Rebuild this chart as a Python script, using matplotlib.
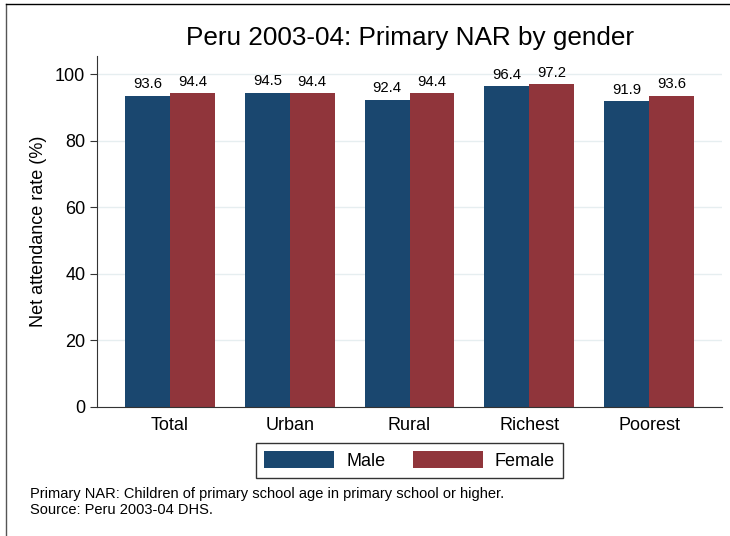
import numpy as np
import matplotlib.pyplot as plt
from matplotlib.lines import Line2D

plt.rcParams['font.family'] = ['Liberation Sans', 'DejaVu Sans']

categories = ['Total', 'Urban', 'Rural', 'Richest', 'Poorest']
male = [93.6, 94.5, 92.4, 96.4, 91.9]
female = [94.4, 94.4, 94.4, 97.2, 93.6]
yticks = [0, 20, 40, 60, 80, 100]

c_male = '#1a476f'
c_female = '#90353b'

fig = plt.figure(figsize=(7.3, 5.36), dpi=100)
ax = fig.add_axes([0.133, 0.241, 0.856, 0.655])

x = np.arange(len(categories))
w = 0.375
b1 = ax.bar(x - w/2, male, w, color=c_male, label='Male')
b2 = ax.bar(x + w/2, female, w, color=c_female, label='Female')

for bars, vals in [(b1, male), (b2, female)]:
    for b, v in zip(bars, vals):
        ax.annotate('%.1f' % v, (b.get_x() + b.get_width()/2, v),
                    xytext=(0, 3), textcoords='offset points',
                    ha='center', va='bottom', fontsize=10.7)

ax.set_xlim(-0.608, 4.608)
ax.set_ylim(0, 105.6)
ax.set_yticks(yticks)
ax.set_xticks(x)
ax.set_xticklabels(categories, fontsize=13)
ax.tick_params(axis='y', labelsize=13, length=5, color='#333333')
ax.tick_params(axis='x', length=0, pad=7)
ax.yaxis.grid(True, color='#e6eef0', linewidth=1)
ax.set_axisbelow(True)
for s in ['top', 'right']:
    ax.spines[s].set_visible(False)
ax.spines['left'].set_color('#333333')
ax.spines['bottom'].set_color('#333333')
ax.set_ylabel('Net attendance rate (%)', fontsize=13, labelpad=6)

fig.text(0.562, 0.929, 'Peru 2003-04: Primary NAR by gender', ha='center',
         va='center', fontsize=18.8)

leg = fig.legend(loc='center', bbox_to_anchor=(0.561, 1 - 460.5/536),
                 ncol=2, fontsize=13, frameon=True, fancybox=False,
                 handlelength=3.88, handleheight=1.0, handletextpad=0.66,
                 columnspacing=1.5, borderpad=0.45, edgecolor='black')
leg.get_frame().set_linewidth(1)

fig.text(0.041, 1 - 494/536, 'Primary NAR: Children of primary school age in primary school or higher.',
         fontsize=10.5, va='center')
fig.text(0.041, 1 - 510/536, 'Source: Peru 2003-04 DHS.', fontsize=10.5, va='center')

fig.add_artist(Line2D([0.008, 0.008], [-0.01, 0.993], transform=fig.transFigure, color='#555555', lw=1))
fig.add_artist(Line2D([0.008, 1.01], [0.993, 0.993], transform=fig.transFigure, color='black', lw=1))

plt.savefig('out.png', dpi=100)
